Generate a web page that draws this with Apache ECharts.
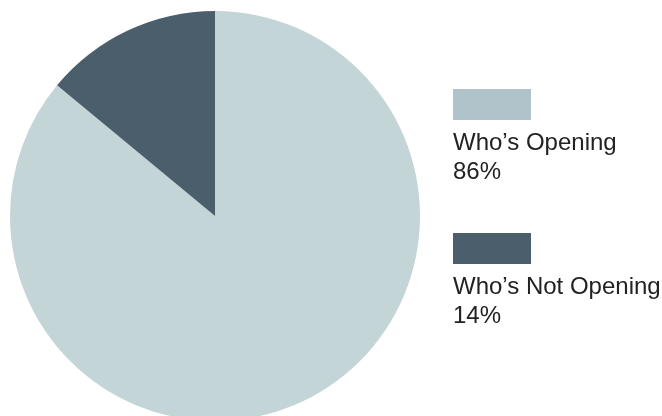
<!DOCTYPE html>
<html><head><meta charset="utf-8">
<script src="https://cdn.jsdelivr.net/npm/echarts@6/dist/echarts.min.js"></script>
<style>html,body{margin:0;padding:0;background:#fff}#c{width:662px;height:416px}</style>
</head><body><div id="c"></div>
<script>
const categories = ["Who’s Opening", "Who’s Not Opening"];
const values = [86, 14];
const sliceColors = ["#c3d5d7", "#4b5e6c"];
const swatchColors = ["#b0c3ca", "#4b5e6c"];

const chart = echarts.init(document.getElementById('c'));
const legendTops = [89, 233];
const graphics = [];
const font = '24px "Liberation Sans", Arial, sans-serif';
categories.forEach((name, i) => {
  const top = legendTops[i];
  graphics.push({type:'rect', left:453, top:top, shape:{width:78, height:31}, style:{fill:swatchColors[i]}});
  graphics.push({type:'text', left:453, top:top+42.5, style:{text:name, fill:'#222', font:font}});
  graphics.push({type:'text', left:453, top:top+71, style:{text:values[i] + '%', fill:'#222', font:font}});
});

chart.setOption({
  animation:false,
  series:[{
    type:'pie',
    center:[215, 216],
    radius:[0, 205],
    startAngle:90,
    clockwise:true,
    label:{show:false},
    labelLine:{show:false},
    silent:true,
    itemStyle:{borderWidth:0},
    data: categories.map((n,i)=>({name:n, value:values[i], itemStyle:{color:sliceColors[i]}}))
  }],
  graphic: graphics
});
</script></body></html>
